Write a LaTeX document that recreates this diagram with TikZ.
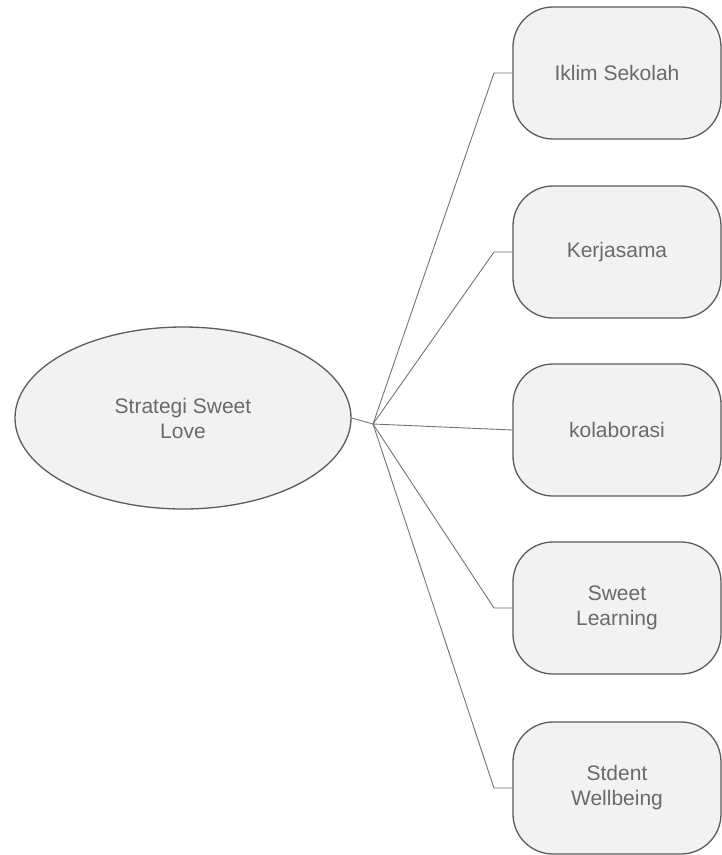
\documentclass[tikz,border=0pt]{standalone}
\usepackage{fontspec}
\setmainfont{Liberation Sans}
\usetikzlibrary{shapes.geometric}
\definecolor{edgecol}{HTML}{5C5C5C}
\definecolor{fillcol}{HTML}{F2F2F2}
\definecolor{textcol}{HTML}{6A6A6A}
\begin{document}
\begin{tikzpicture}[x=1pt,y=-1pt,
  every node/.style={font=\fontsize{21}{25}\selectfont, text=textcol, align=center},
  rootnode/.style={ellipse, draw=edgecol, fill=fillcol, line width=1.3pt, minimum width=336pt, minimum height=182pt, inner sep=0pt},
  leafbox/.style={rectangle, rounded corners=40pt, draw=edgecol, fill=fillcol, line width=1.3pt, minimum width=208pt, minimum height=132pt, inner sep=0pt},
  link/.style={draw=edgecol!85, line width=0.9pt}]
\useasboundingbox (0,0) rectangle (721,855);
\fill[white] (0,0) rectangle (721,855);
\node[rootnode] (root) at (183,418) {Strategi Sweet\\Love};
\node[leafbox] (b1) at (617,73) {Iklim Sekolah};
\node[leafbox] (b2) at (617,252) {Kerjasama};
\node[leafbox] (b3) at (617,430) {kolaborasi};
\node[leafbox] (b4) at (617,608) {Sweet\\Learning};
\node[leafbox] (b5) at (617,788) {Stdent\\Wellbeing};
\coordinate (j) at (373,424);
\coordinate (k1) at (494,73);
\coordinate (k2) at (494,252);
\coordinate (k4) at (494,608);
\coordinate (k5) at (494,788);
\draw[link] (root.east) -- (j);
\draw[link] (j) -- (k1) -- (b1.west);
\draw[link] (j) -- (k2) -- (b2.west);
\draw[link] (j) -- (b3.west);
\draw[link] (j) -- (k4) -- (b4.west);
\draw[link] (j) -- (k5) -- (b5.west);
\end{tikzpicture}
\end{document}
